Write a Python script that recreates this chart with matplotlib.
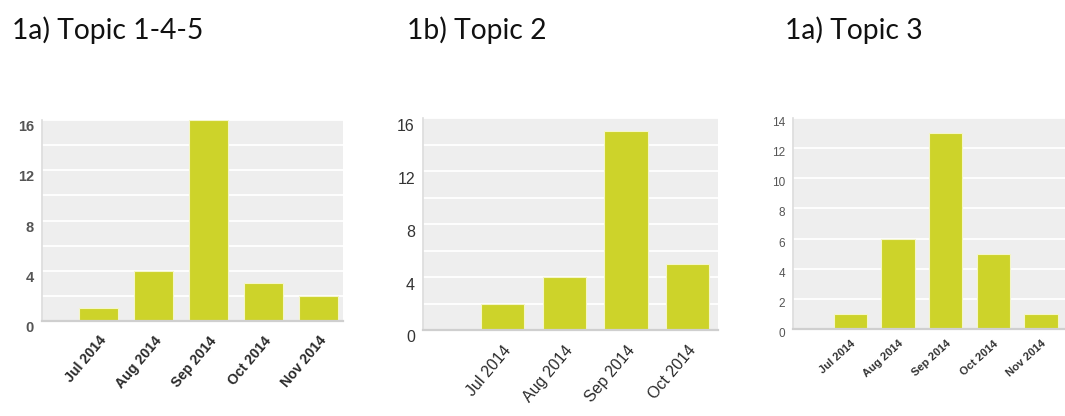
import matplotlib
matplotlib.use("Agg")
import matplotlib.pyplot as plt
import numpy as np

# Data
titles = ["1a) Topic 1-4-5", "1b) Topic 2", "1a) Topic 3"]
months_1 = ["Jul 2014", "Aug 2014", "Sep 2014", "Oct 2014", "Nov 2014"]
values_1 = [1, 4, 16, 3, 2]
months_2 = ["Jul 2014", "Aug 2014", "Sep 2014", "Oct 2014"]
values_2 = [2, 4, 15, 5]
months_3 = ["Jul 2014", "Aug 2014", "Sep 2014", "Oct 2014", "Nov 2014"]
values_3 = [1, 6, 13, 5, 1]
yticks_1 = [0, 4, 8, 12, 16]
yticks_2 = [0, 4, 8, 12, 16]
yticks_3 = [0, 2, 4, 6, 8, 10, 12, 14]

W, H = 1065, 416
fig = plt.figure(figsize=(W / 100, H / 100), dpi=100)

BAR = "#cdd32a"
BG = "#eeeeee"

def make_axes(l, r, t, b):
    return fig.add_axes([l / W, (H - b) / H, (r - l) / W, (b - t) / H])

def draw(ax, months, vals, ymax, yticks, grid_step, xlim, lab_font, lab_weight,
         lab_color, ysize, yweight, ycolor, ylab_off, pad, rot):
    x = np.arange(len(months))
    ax.set_facecolor(BG)
    ax.set_ylim(0, ymax)
    ax.set_xlim(*xlim)
    for g in np.arange(grid_step, ymax + 0.01, grid_step):
        ax.axhline(g, color="white", lw=1.3, zorder=1)
    ax.bar(x, vals, width=0.7, color=BAR, edgecolor="#f4f6c8", linewidth=0.8, zorder=2)
    for s in ["top", "right"]:
        ax.spines[s].set_visible(False)
    ax.spines["bottom"].set_color("#cfcfcf")
    ax.spines["bottom"].set_linewidth(1.6)
    ax.spines["left"].set_color("#dcdcdc")
    ax.spines["left"].set_linewidth(1.2)
    ax.set_yticks(yticks)
    ax.set_yticklabels([])
    ax.tick_params(axis="both", length=0)
    # y labels (slightly offset downward like the source)
    for yt in yticks:
        ax.annotate(str(yt), xy=(0, yt), xycoords=("axes fraction", "data"),
                    xytext=(-8, -ylab_off), textcoords="offset pixels",
                    ha="right", va="center", fontsize=ysize, fontweight=yweight,
                    color=ycolor, family="Liberation Sans")
    ax.set_xticks(x)
    ax.set_xticklabels(months, rotation=rot, ha="right", rotation_mode="anchor",
                       fontsize=lab_font, fontweight=lab_weight, color=lab_color,
                       family="Liberation Sans")
    ax.tick_params(axis="x", pad=pad)

# Chart 1
ax1 = make_axes(42, 343, 120, 321)
draw(ax1, months_1, values_1, 16, yticks_1, 2, (-1.03, 4.45), 10.2, "bold", "#2a2a2a",
     10.5, "bold", "#555555", 7, 9, 50)

# Chart 2
ax2 = make_axes(423, 718, 118, 330)
draw(ax2, months_2, values_2, 16, yticks_2, 2, (-1.29, 3.49), 11.5, "normal", "#2a2a2a",
     11.5, "normal", "#333333", 8, 9, 50)

# Chart 3
ax3 = make_axes(793, 1065, 118, 329)
draw(ax3, months_3, values_3, 14, yticks_3, 2, (-1.2, 4.5), 8, "bold", "#333333",
     8.5, "normal", "#555555", 5, 7, 42)

# Titles
title_x = [12, 407, 785]
for tx, tt in zip(title_x, titles):
    fig.text(tx / W, (H - 39) / H, tt, fontsize=20.3, family="Lato", color="#111111",
             ha="left", va="baseline")

fig.savefig("out.png", dpi=100)
